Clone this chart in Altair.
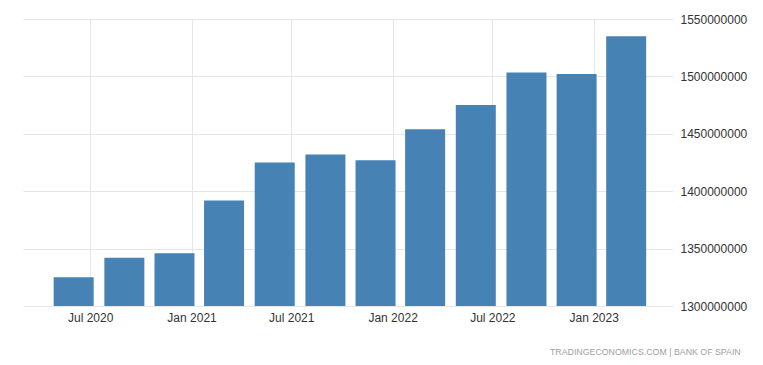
import altair as alt
import pandas as pd

dates = ["2020-06-01", "2020-09-01", "2020-12-01", "2021-03-01", "2021-06-01", "2021-09-01",
         "2021-12-01", "2022-03-01", "2022-06-01", "2022-09-01", "2022-12-01", "2023-03-01"]
values = [1325000000, 1342000000, 1346000000, 1392000000, 1425000000, 1432000000,
          1427000000, 1454000000, 1475000000, 1503500000, 1502000000, 1535000000]
y_ticks = [1300000000, 1350000000, 1400000000, 1450000000, 1500000000, 1550000000]
x_ticks = [(2020, 7), (2021, 1), (2021, 7), (2022, 1), (2022, 7), (2023, 1)]

df = pd.DataFrame({"date": dates, "value": values})

FONT = "Liberation Sans"

chart = alt.Chart(df).mark_bar(size=40, color="#4682b4", clip=True).encode(
    x=alt.X("date:T",
            scale=alt.Scale(type="utc", padding=0,
                            domain=[alt.DateTime(year=2020, month=3, date=1, utc=True),
                                    alt.DateTime(year=2023, month=5, date=25, utc=True)]),
            axis=alt.Axis(values=[alt.DateTime(year=y, month=m, date=1, utc=True) for y, m in x_ticks],
                          format="%b %Y", title=None, grid=True, gridColor="#e6e6e6",
                          domain=False, ticks=False, labelPadding=6, labelFontSize=12,
                          labelColor="#333333", labelFont=FONT)),
    y=alt.Y("value:Q",
            scale=alt.Scale(domain=[1300000000, 1550000000], zero=False, nice=False),
            axis=alt.Axis(orient="right", values=y_ticks, format="d", title=None,
                          grid=True, gridColor="#e6e6e6", domain=False, ticks=False,
                          labelPadding=7, labelFontSize=12, labelColor="#333333",
                          labelFont=FONT)),
).properties(
    width=650, height=287,
    background="white",
    autosize=alt.AutoSizeParams(type="none"),
    padding={"left": 23, "top": 19, "right": 90, "bottom": 59},
    title=alt.TitleParams("TRADINGECONOMICS.COM  |  BANK OF SPAIN", orient="bottom",
                          anchor="end", fontSize=8.8, fontWeight="normal", color="#a0a0a0",
                          font=FONT, dx=-6, offset=25),
).configure_view(stroke="transparent", strokeWidth=0)

chart.save("out.html", embed_options={"renderer": "svg", "actions": False})
